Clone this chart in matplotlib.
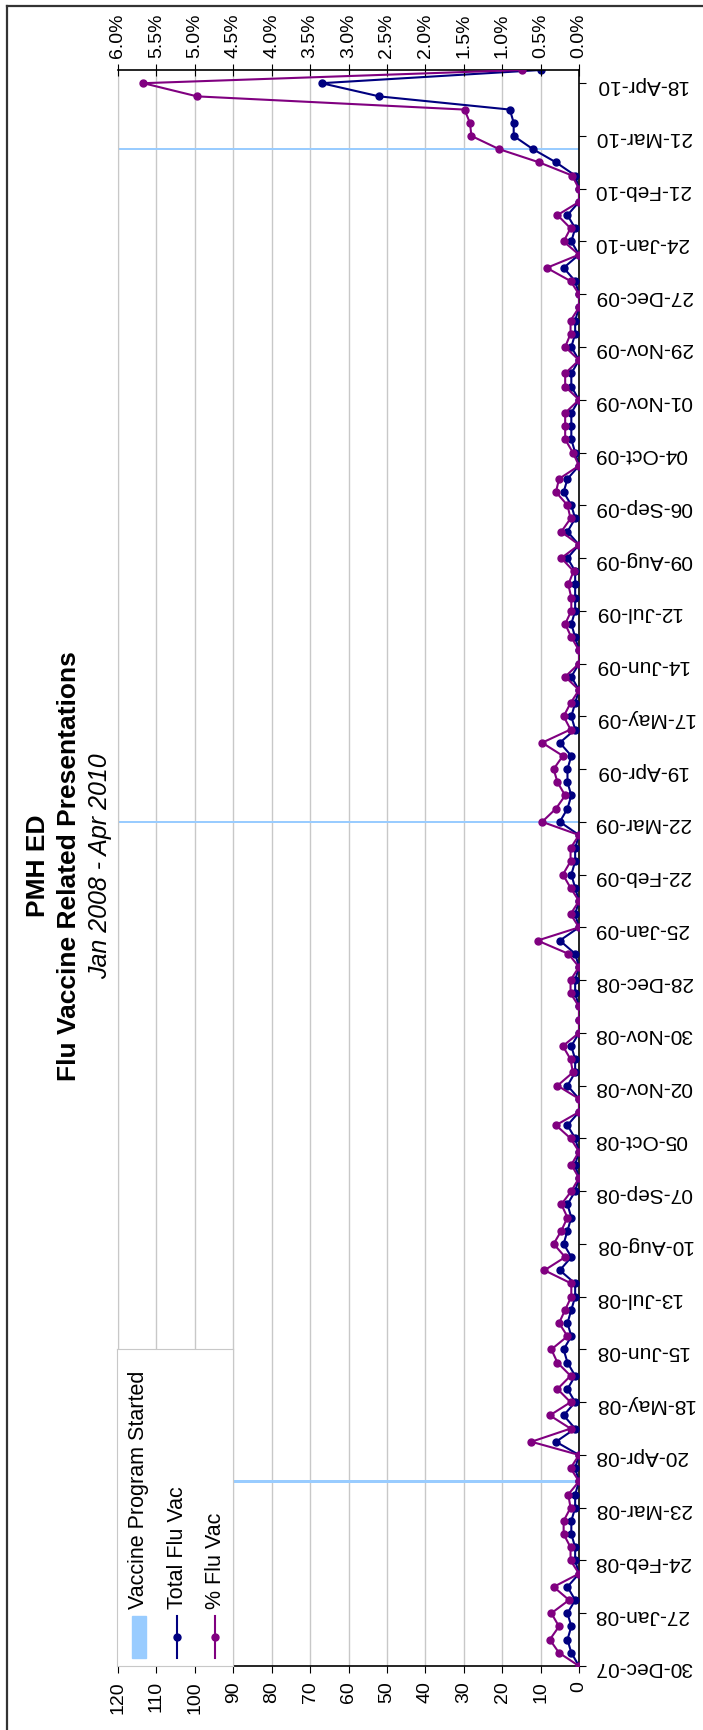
import matplotlib
matplotlib.use('Agg')
import matplotlib.pyplot as plt
import matplotlib.dates as mdates
import matplotlib.ticker as mticker
from matplotlib.patches import Rectangle
from matplotlib.lines import Line2D
import pandas as pd

plt.rcParams['font.family'] = ['Liberation Sans', 'DejaVu Sans']

# weekly counts of flu vaccine related presentations (week starting 30-Dec-07)
total_flu_vac = [0, 2, 3, 2, 3, 1, 3, 0, 1, 1,
                 2, 2, 1, 1, 0, 1, 0, 6, 1, 4,
                 1, 3, 1, 3, 4, 2, 3, 2, 1, 1,
                 5, 2, 4, 3, 2, 3, 1, 0, 1, 0,
                 1, 3, 0, 0, 3, 1, 1, 2, 0, 0,
                 0, 1, 1, 0, 1, 5, 0, 1, 0, 1,
                 2, 1, 1, 0, 5, 3, 2, 3, 3, 2,
                 5, 1, 2, 1, 0, 2, 0, 0, 1, 2,
                 1, 1, 1, 1, 3, 0, 3, 1, 2, 4,
                 3, 0, 1, 2, 2, 2, 0, 2, 2, 0,
                 2, 1, 1, 0, 0, 1, 4, 0, 2, 1,
                 3, 0, 0, 1, 6, 12, 17, 17, 18, 52,
                 67, 10]

# same weeks, as % of all ED presentations
pct_flu_vac = [0, 0.26, 0.38, 0.26, 0.36, 0.13, 0.33, 0, 0.11, 0.11,
               0.20, 0.20, 0.11, 0.14, 0, 0.11, 0, 0.62, 0.11, 0.38,
               0.11, 0.28, 0.11, 0.28, 0.36, 0.15, 0.26, 0.18, 0.10, 0.10,
               0.45, 0.18, 0.33, 0.23, 0.15, 0.23, 0.10, 0, 0.10, 0,
               0.11, 0.30, 0, 0, 0.28, 0.08, 0.11, 0.21, 0, 0,
               0, 0.11, 0.11, 0, 0.14, 0.54, 0, 0.11, 0, 0.11,
               0.21, 0.11, 0.11, 0, 0.48, 0.30, 0.18, 0.28, 0.33, 0.21,
               0.48, 0.11, 0.20, 0.11, 0, 0.18, 0, 0, 0.10, 0.18,
               0.10, 0.10, 0.14, 0.07, 0.23, 0, 0.23, 0.11, 0.15, 0.30,
               0.26, 0, 0.08, 0.18, 0.18, 0.18, 0, 0.18, 0.18, 0,
               0.18, 0.11, 0.11, 0, 0, 0.11, 0.42, 0, 0.20, 0.11,
               0.28, 0, 0, 0.09, 0.52, 1.04, 1.40, 1.42, 1.49, 4.97,
               5.67, 0.74]

weeks = pd.date_range('2007-12-30', periods=len(total_flu_vac), freq='7D')
tick_dates = pd.date_range('2007-12-30', '2010-04-18', freq='28D')

vaccine_dates = pd.to_datetime(['2008-04-06', '2009-03-22', '2010-03-14'])
vaccine_values = [120, 120, 120]

navy = '#000080'
purple = '#800080'
light_blue = '#99CCFF'
grid_grey = '#C8C8C8'

W, H = 703, 1730
fig = plt.figure(figsize=(W / 100, H / 100), dpi=100)

# the chart is drawn turned on its side: values run right-to-left, weeks bottom-to-top
ax = fig.add_axes([118 / W, 64 / H, 461 / W, 1596 / H])
ax.barh(vaccine_dates, vaccine_values, height=1.4, color=light_blue, zorder=1)
ax.plot(total_flu_vac, weeks, color=navy, marker='o', ms=5, lw=1.5, zorder=3)
ax.set_xlim(120, 0)
ax.set_ylim(weeks[0], weeks[-1])
ax.set_xticks(range(0, 121, 10))
ax.grid(axis='x', color=grid_grey, lw=1)
ax.set_axisbelow(True)
ax.tick_params(axis='x', labelrotation=90, labelsize=14, direction='out', length=5, pad=6)

ax.yaxis.tick_right()
ax.set_yticks(tick_dates)
ax.yaxis.set_major_formatter(mdates.DateFormatter('%d-%b-%y'))
ax.tick_params(axis='y', labelrotation=180, labelsize=15, direction='out', length=5, pad=6)

ax.spines['top'].set_visible(False)
ax.spines['left'].set_color(grid_grey)
ax.spines['right'].set_linewidth(1.2)
ax.spines['bottom'].set_linewidth(1.2)

ax2 = ax.twiny()
ax2.plot([p / 100 for p in pct_flu_vac], weeks, color=purple, marker='o', ms=5, lw=1.5, zorder=4)
ax2.set_xlim(0.06, 0)
ax2.xaxis.set_major_locator(mticker.MultipleLocator(0.005))
ax2.xaxis.set_major_formatter(mticker.PercentFormatter(1.0, decimals=1))
ax2.tick_params(axis='x', labelrotation=90, labelsize=14, direction='inout', length=9, pad=4)
for side in ['left', 'right', 'bottom']:
    ax2.spines[side].set_visible(False)
ax2.spines['top'].set_linewidth(1.2)

# title, turned like the rest of the chart
fig.text(45 / W, 1 - 866 / H, 'PMH ED', rotation=90, rotation_mode='anchor',
         ha='center', va='baseline', fontsize=19, fontweight='bold')
fig.text(76 / W, 1 - 866 / H, 'Flu Vaccine Related Presentations', rotation=90,
         rotation_mode='anchor', ha='center', va='baseline', fontsize=19, fontweight='bold')
fig.text(107 / W, 1 - 866 / H, 'Jan 2008 - Apr 2010', rotation=90, rotation_mode='anchor',
         ha='center', va='baseline', fontsize=18, fontstyle='italic')

# legend box, also turned
lax = fig.add_axes([117 / W, 64 / H, 116 / W, 317 / H])
lax.set_zorder(10)
lax.set_xlim(0, 1)
lax.set_ylim(0, 1)
lax.set_xticks([])
lax.set_yticks([])
for s in lax.spines.values():
    s.set_color(grid_grey)
lax.add_patch(Rectangle((0.13, 0.026), 0.12, 0.133, color=light_blue))
for xc, c in [(0.518, navy), (0.845, purple)]:
    lax.add_line(Line2D([xc, xc], [0.024, 0.159], color=c, lw=1.5))
    lax.plot([xc], [0.0915], marker='o', ms=5, color=c)
labels = ['Vaccine Program Started', 'Total Flu Vac', '% Flu Vac']
for xc, lab in zip([0.189, 0.518, 0.845], labels):
    lax.text(xc, 0.18, lab, rotation=90, ha='center', va='bottom', fontsize=15.5)

# outer chart border (left and top edges)
fig.add_artist(Line2D([7 / W, 7 / W], [0, 1 - 6 / H], color='#333333', lw=1.6))
fig.add_artist(Line2D([7 / W, 1], [1 - 6 / H, 1 - 6 / H], color='#333333', lw=1.6))

fig.savefig('out.png', dpi=100)
